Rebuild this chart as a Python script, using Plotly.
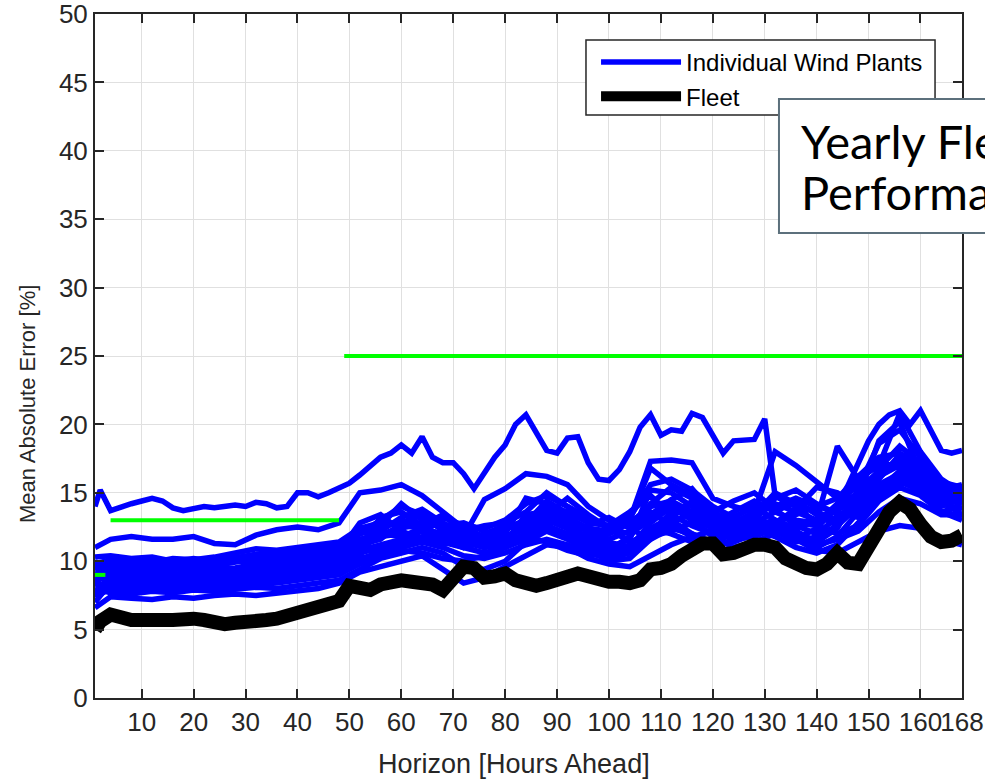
import plotly.graph_objects as go

# Forecast horizons (hours ahead) at which the errors are tabulated
HOURS_2H = [1] + list(range(2, 169, 2))
HOURS_4H = [1] + list(range(4, 169, 4))

# Fleet-wide mean absolute error [%] on the 2-hour grid
FLEET_MAE = [
    5.0, 5.6, 6.1, 5.8, 5.7, 5.7, 5.6, 5.7, 5.7, 5.8, 5.8, 5.7, 5.5, 5.4, 5.5, 5.5, 5.6, 5.7, 5.8, 6.0,
    6.2, 6.5, 6.7, 6.8, 7.1,
    8.2, 8.0, 7.9, 8.3, 8.5, 8.6, 8.5, 8.5, 8.3, 7.9, 8.8, 9.6, 9.5, 8.8, 8.9, 9.1, 8.6, 8.3, 8.2, 8.4,
    8.6, 8.8, 9.1, 8.9, 8.6, 8.5, 8.5, 8.4, 8.6, 9.4, 9.5, 9.8, 10.4, 11.0, 11.3, 11.3, 10.5, 10.6, 11.0,
    11.2, 11.2, 11.0, 10.2, 9.7, 9.5, 9.4, 9.8, 10.6, 9.9, 9.8, 11.0, 12.6, 13.6, 14.3, 13.8, 12.7, 11.8,
    11.4, 11.5, 11.9,
]

# Individual wind plants, mean absolute error [%]
PLANT_A = [  # 2-hour grid
    14.0, 15.2, 13.7, 14.0, 14.2, 14.4, 14.6, 14.4, 13.9, 13.7, 13.9, 14.0, 13.9, 14.0, 14.1, 14.0, 14.3,
    14.2, 13.9, 14.0, 15.0, 15.0, 14.7, 15.0, 15.4,
    15.7, 16.3, 16.9, 17.6, 17.9, 18.5, 17.9, 19.1, 17.6, 17.2, 17.2, 16.4, 15.3, 16.5, 17.6, 18.5, 20.0,
    20.7, 19.4, 18.1, 17.9, 19.0, 19.1, 17.2, 16.0, 15.9, 16.7, 18.0, 19.8, 20.7, 19.2, 19.6, 19.5, 20.8,
    20.5, 19.2, 17.9, 18.8, 18.9, 18.9, 20.4, 14.8, 14.3, 14.0, 13.4, 12.8, 13.5, 14.2, 15.5, 17.2, 18.8,
    20.0, 20.7, 21.0, 20.0, 21.0, 19.5, 18.1, 17.9, 18.1,
]
PLANT_B = [11.0, 11.6, 11.8, 11.6, 11.6, 11.8, 11.3, 11.2, 11.9, 12.3, 12.5, 12.3, 12.8, 15.0, 15.2,
           15.6, 14.8, 13.6, 12.4, 11.8, 12.3, 12.9, 12.4, 12.0, 11.6, 12.0, 13.0, 17.3, 17.4, 17.2,
           14.6, 14.0, 13.6, 14.0, 14.6, 14.0, 14.6, 16.2, 17.6, 17.9, 17.0, 15.6, 15.2]
PLANT_C = [9.8, 10.1, 10.0, 9.9, 10.2, 10.1, 10.3, 10.6, 10.9, 10.8, 11.0, 11.2, 11.4, 12.4, 12.8,
           12.6, 12.4, 12.0, 11.8, 14.5, 15.3, 16.4, 16.2, 15.6, 14.0, 13.0, 12.5, 13.4, 14.5, 15.3,
           13.5, 12.8, 13.3, 14.2, 13.6, 13.0, 14.0, 15.8, 17.3, 16.8, 15.8, 15.0, 15.5]
PLANT_D = [9.0, 9.3, 9.2, 9.4, 9.6, 9.4, 9.7, 9.9, 10.2, 10.3, 10.5, 10.8, 11.0, 12.0, 13.0, 14.0,
           13.4, 12.2, 11.6, 11.2, 11.8, 12.4, 13.8, 13.2, 12.4, 12.2, 13.0, 16.8, 15.6, 14.8, 13.6,
           12.8, 13.6, 18.0, 17.0, 15.8, 14.6, 15.4, 18.6, 19.6, 17.6, 15.0, 14.6]
PLANT_E = [8.6, 9.0, 8.8, 9.0, 8.9, 9.1, 9.3, 9.2, 9.5, 9.7, 9.9, 10.2, 10.4, 11.5, 12.2, 13.2, 13.8,
           12.8, 11.4, 11.0, 11.5, 12.8, 14.4, 13.5, 12.0, 11.6, 12.2, 14.2, 15.4, 14.6, 13.2, 12.4,
           12.6, 13.0, 12.4, 13.0, 18.4, 16.0, 17.0, 20.8, 18.0, 16.0, 15.0]
PLANT_F = [8.2, 8.5, 8.7, 8.6, 8.5, 8.7, 8.9, 8.8, 9.0, 9.2, 9.4, 9.6, 9.9, 11.0, 13.2, 13.6, 12.6,
           11.6, 11.0, 11.4, 12.0, 14.6, 14.2, 12.6, 11.4, 11.0, 11.6, 15.2, 15.0, 14.0, 12.8, 12.0,
           12.8, 13.6, 14.4, 13.4, 12.6, 14.6, 18.8, 20.2, 16.4, 15.2, 15.6]
PLANT_G = [7.8, 8.2, 8.0, 8.3, 8.2, 8.1, 8.4, 8.5, 8.7, 8.8, 9.0, 9.3, 9.5, 10.4, 12.6, 14.2, 13.0,
           12.4, 12.2, 12.6, 12.8, 13.6, 15.0, 14.0, 13.2, 12.4, 12.0, 13.0, 14.4, 13.2, 12.4, 13.2,
           14.0, 13.0, 12.2, 11.4, 12.4, 15.2, 16.6, 17.4, 16.8, 14.6, 14.2]
PLANT_H = [10.3, 10.4, 10.2, 10.3, 10.0, 9.9, 10.1, 10.0, 10.2, 10.5, 10.6, 10.4, 10.7, 12.8, 13.4,
           12.2, 11.6, 11.8, 11.4, 12.0, 12.6, 12.2, 13.4, 14.6, 13.4, 12.4, 11.4, 12.0, 13.6, 14.2,
           13.6, 14.4, 15.0, 13.8, 12.6, 12.0, 13.2, 14.2, 15.6, 16.4, 15.6, 14.8, 14.4]
PLANT_I = [9.4, 9.6, 9.5, 9.3, 9.4, 9.6, 9.4, 9.5, 9.8, 9.9, 10.1, 10.3, 10.2, 11.2, 11.6, 12.8, 13.4,
           12.6, 12.8, 12.2, 11.8, 12.4, 12.6, 12.0, 12.6, 13.2, 12.4, 11.6, 12.8, 13.6, 12.6, 11.8,
           12.2, 12.8, 13.4, 14.0, 13.6, 13.2, 15.0, 16.0, 15.4, 14.2, 13.8]
PLANT_J = [7.4, 8.0, 7.8, 7.9, 8.1, 8.0, 8.2, 8.3, 8.4, 8.6, 8.7, 8.9, 9.2, 10.0, 10.8, 11.4, 12.6,
           13.4, 12.2, 11.6, 11.4, 12.0, 13.0, 12.4, 11.2, 10.4, 10.8, 12.2, 13.0, 12.0, 11.4, 12.0,
           12.6, 12.2, 11.6, 12.4, 14.0, 15.0, 16.2, 17.0, 16.2, 14.4, 13.4]
PLANT_K = [6.6, 7.4, 7.3, 7.2, 7.4, 7.3, 7.5, 7.6, 7.5, 7.7, 7.8, 8.0, 8.4, 9.2, 9.6, 10.0, 10.4, 9.4,
           8.4, 8.8, 9.6, 10.4, 11.2, 11.0, 10.2, 9.8, 9.6, 10.4, 11.2, 11.8, 12.2, 11.6, 11.8, 12.4,
           11.6, 10.8, 10.6, 11.4, 12.2, 12.6, 12.4, 11.6, 11.2]
PLANT_L = [8.0, 7.7, 7.6, 7.8, 7.7, 7.9, 7.8, 8.0, 8.1, 8.0, 8.2, 8.4, 8.6, 9.4, 10.2, 10.6, 11.0,
           10.6, 9.6, 9.4, 10.0, 11.4, 12.2, 11.6, 10.8, 10.0, 10.2, 11.6, 12.4, 12.0, 11.2, 11.4,
           12.0, 12.6, 12.0, 11.0, 11.8, 13.6, 15.4, 16.0, 15.0, 13.6, 13.0]
PLANT_M = [9.2, 8.8, 9.0, 8.8, 9.1, 9.0, 8.9, 9.1, 9.3, 9.4, 9.6, 9.8, 10.0, 10.8, 11.2, 11.6, 12.2,
           11.4, 11.0, 10.6, 11.0, 11.6, 12.8, 13.0, 12.2, 11.4, 11.0, 12.8, 14.0, 13.0, 11.8, 11.0,
           11.4, 12.0, 12.8, 12.6, 12.0, 12.6, 14.4, 15.4, 14.8, 13.6, 14.0]
PLANT_N = [8.4, 9.4, 9.6, 9.7, 9.8, 9.7, 9.9, 10.0, 10.0, 10.2, 10.4, 10.6, 10.8, 11.6, 12.0, 12.4,
           12.8, 13.2, 12.6, 12.4, 13.0, 14.2, 14.8, 14.0, 13.0, 12.6, 13.6, 14.8, 13.4, 12.6, 12.0,
           12.6, 13.4, 15.0, 14.2, 13.6, 13.0, 14.8, 16.2, 17.2, 16.4, 15.4, 15.0]
PLANT_O = [8.8, 8.6, 8.4, 8.5, 8.6, 8.4, 8.6, 8.7, 8.9, 9.1, 9.2, 9.5, 9.7, 10.6, 11.0, 11.2, 11.8,
           12.0, 11.6, 11.0, 11.2, 12.0, 12.4, 11.8, 11.0, 10.8, 11.8, 13.6, 12.6, 11.8, 11.0, 11.6,
           12.4, 11.8, 11.0, 10.6, 11.2, 12.8, 14.6, 15.8, 15.2, 14.0, 14.6]
PLANT_P = [9.6, 9.8, 9.9, 10.1, 10.0, 10.2, 10.0, 10.3, 10.5, 10.6, 10.8, 11.0, 11.3, 12.0, 12.4,
           13.0, 12.6, 11.8, 11.0, 11.6, 12.4, 13.0, 14.0, 13.6, 12.8, 12.6, 13.2, 15.6, 16.0, 15.2,
           14.0, 13.2, 12.6, 12.8, 13.8, 15.4, 15.0, 14.0, 16.8, 18.4, 17.2, 15.8, 15.4]
PLANT_Q = [7.0, 8.4, 8.2, 8.1, 8.3, 8.4, 8.3, 8.4, 8.6, 8.5, 8.8, 9.0, 9.4, 10.2, 10.6, 11.0, 11.4,
           11.0, 10.4, 10.2, 10.6, 11.2, 11.6, 11.2, 10.6, 10.2, 10.6, 11.8, 12.2, 12.8, 12.0, 12.6,
           13.2, 12.6, 11.8, 11.2, 11.6, 12.2, 13.6, 14.6, 14.2, 13.4, 13.4]
PLANT_R = [10.0, 9.0, 9.3, 9.2, 9.0, 9.3, 9.1, 9.4, 9.6, 10.0, 10.2, 10.0, 10.5, 11.4, 12.0, 11.8,
           12.4, 12.8, 12.0, 11.4, 11.6, 12.6, 13.2, 12.8, 12.2, 12.0, 12.8, 14.0, 14.4, 13.6, 12.8,
           13.6, 14.4, 13.6, 13.0, 12.8, 13.8, 14.4, 16.0, 17.8, 16.6, 15.2, 14.8]
PLANT_S = [7.6, 8.8, 8.6, 8.7, 8.8, 8.6, 8.8, 9.0, 9.1, 9.3, 9.5, 9.7, 9.8, 11.0, 11.8, 12.0, 11.6,
           11.2, 11.6, 11.2, 11.4, 13.4, 13.6, 12.4, 11.8, 11.2, 11.0, 12.4, 13.2, 14.4, 13.0, 12.4,
           13.0, 14.6, 15.2, 14.2, 13.4, 13.8, 15.2, 16.6, 16.0, 14.6, 14.2]
PLANT_T = [8.5, 7.9, 8.2, 8.0, 7.9, 8.2, 8.1, 8.2, 8.3, 8.4, 8.6, 8.8, 9.0, 9.8, 10.4, 10.8, 10.6,
           10.2, 10.0, 10.4, 11.0, 11.8, 11.4, 10.8, 10.4, 10.6, 11.2, 12.4, 12.0, 11.4, 11.6, 12.2,
           12.8, 12.2, 11.4, 11.8, 12.6, 14.0, 15.6, 16.2, 15.2, 14.2, 13.8]

# Performance targets by horizon band (gaps split the bands)
TARGET_HOURS = [1, 3, None, 4, 48, None, 49, 168]
TARGET_MAE = [9, 9, None, 13, 13, None, 25, 25]

X_TICKS = [10, 20, 30, 40, 50, 60, 70, 80, 90, 100, 110, 120, 130, 140, 150, 160, 168]
Y_TICKS = [0, 5, 10, 15, 20, 25, 30, 35, 40, 45, 50]

PLANTS = [(HOURS_2H, PLANT_A)] + [(HOURS_4H, p) for p in (
    PLANT_B, PLANT_C, PLANT_D, PLANT_E, PLANT_F, PLANT_G, PLANT_H, PLANT_I, PLANT_J,
    PLANT_K, PLANT_L, PLANT_M, PLANT_N, PLANT_O, PLANT_P, PLANT_Q, PLANT_R, PLANT_S, PLANT_T)]

SANS = "Liberation Sans, Arial, Helvetica, sans-serif"
CALLOUT_FONT = "Lato, Carlito, Calibri, sans-serif"
INK = "#262626"

fig = go.Figure()

for i, (hrs, mae) in enumerate(PLANTS):
    fig.add_trace(go.Scatter(
        x=hrs, y=mae, mode="lines", name="Individual Wind Plants",
        legendgroup="plants", showlegend=(i == 0),
        line=dict(color="#0000ff", width=5.5),
    ))

fig.add_trace(go.Scatter(
    x=TARGET_HOURS, y=TARGET_MAE, mode="lines", showlegend=False,
    line=dict(color="#00ff00", width=4), connectgaps=False,
))

fig.add_trace(go.Scatter(
    x=HOURS_2H, y=FLEET_MAE, mode="lines", name="Fleet",
    line=dict(color="black", width=14),
))

axis_style = dict(
    showline=True, linecolor=INK, linewidth=2, mirror="ticks",
    ticks="inside", ticklen=9, tickwidth=1.5, tickcolor=INK,
    showgrid=True, gridcolor="#e0e0e0", gridwidth=1, zeroline=False,
    tickfont=dict(family=SANS, size=26, color=INK),
    ticklabeloverflow="allow", automargin=False, tickangle=0,
)
fig.update_xaxes(range=[1, 168], tickmode="array", tickvals=X_TICKS,
                 ticktext=[str(t) for t in X_TICKS], **axis_style)
fig.update_yaxes(range=[0, 50], tickmode="array", tickvals=Y_TICKS,
                 ticktext=[str(t) for t in Y_TICKS], **axis_style)

fig.update_layout(
    width=985, height=780, autosize=False,
    margin=dict(l=95, r=23, t=14, b=82),
    plot_bgcolor="white", paper_bgcolor="white",
    legend=dict(
        x=0.5779, y=0.962, xanchor="left", yanchor="top",
        bgcolor="rgba(0,0,0,0)", borderwidth=0,
        font=dict(family=SANS, size=24, color="black"),
        itemwidth=80, tracegroupgap=0,
    ),
    shapes=[
        # legend frame
        dict(type="rect", xref="paper", yref="paper", x0=0.5663, x1=0.9689, y0=0.8523, y1=0.962,
             fillcolor="white", line=dict(color=INK, width=1.5), layer="above"),
        # call-out frame, running off the right edge of the page
        dict(type="rect", xref="paper", yref="paper", x0=0.7889, x1=1.08, y0=0.6798, y1=0.8757,
             fillcolor="white", line=dict(color="#5c707c", width=2), layer="above"),
    ],
    annotations=[
        dict(text="Horizon [Hours Ahead]", xref="paper", yref="paper",
             x=0.483, y=-0.097, xanchor="center", yanchor="middle", showarrow=False,
             font=dict(family=SANS, size=27, color=INK)),
        dict(text="Mean Absolute Error [%]", xref="paper", yref="paper",
             x=-0.077, y=0.43, xanchor="center", yanchor="middle", showarrow=False,
             textangle=-90, font=dict(family=SANS, size=22, color=INK)),
        dict(text="Yearly Fleet", xref="paper", yref="paper",
             x=0.8131, y=0.8143, xanchor="left", yanchor="middle", showarrow=False,
             borderpad=0, font=dict(family=CALLOUT_FONT, size=47, color="black")),
        dict(text="Performance", xref="paper", yref="paper",
             x=0.8131, y=0.7398, xanchor="left", yanchor="middle", showarrow=False,
             borderpad=0, font=dict(family=CALLOUT_FONT, size=47, color="black")),
    ],
)

fig.write_html("out.html")
